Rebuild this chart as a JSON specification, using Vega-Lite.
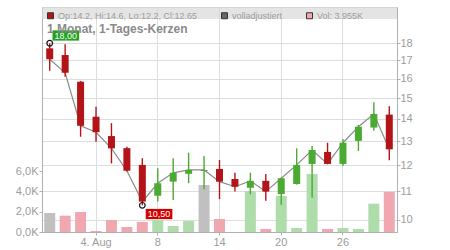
{
  "$schema": "https://vega.github.io/schema/vega-lite/v6.json",
  "width": 355,
  "height": 225,
  "autosize": {"type": "none"},
  "padding": {"left": 42, "top": 7, "right": 53, "bottom": 18},
  "background": "white",
  "title": {"text": "1 Monat, 1-Tages-Kerzen", "anchor": "start", "frame": "group", "orient": "top", "offset": -38, "dx": 5, "baseline": "alphabetic", "font": "Liberation Sans", "fontSize": 12, "fontWeight": "bold", "color": "#8a8a8a"},
  "datasets": {
    "ohlc": [
      {"date": "2025-07-30", "open": 17.70, "high": 18.00, "low": 16.43, "close": 17.07, "vol": 1870, "chg": "0"},
      {"date": "2025-07-31", "open": 17.31, "high": 17.95, "low": 16.11, "close": 16.32, "vol": 1610, "chg": "-"},
      {"date": "2025-08-01", "open": 15.84, "high": 15.88, "low": 13.19, "close": 13.68, "vol": 1970, "chg": "-"},
      {"date": "2025-08-04", "open": 14.10, "high": 14.57, "low": 12.97, "close": 13.39, "vol": 100, "chg": "-"},
      {"date": "2025-08-05", "open": 13.22, "high": 13.80, "low": 12.07, "close": 12.69, "vol": 1180, "chg": "-"},
      {"date": "2025-08-06", "open": 12.70, "high": 12.76, "low": 11.75, "close": 11.78, "vol": 490, "chg": "-"},
      {"date": "2025-08-07", "open": 12.01, "high": 12.28, "low": 10.50, "close": 10.63, "vol": 990, "chg": "-"},
      {"date": "2025-08-08", "open": 10.84, "high": 11.88, "low": 10.63, "close": 11.30, "vol": 1180, "chg": "+"},
      {"date": "2025-08-11", "open": 11.36, "high": 12.28, "low": 10.69, "close": 11.70, "vol": 590, "chg": "+"},
      {"date": "2025-08-12", "open": 11.66, "high": 12.51, "low": 11.30, "close": 11.81, "vol": 1080, "chg": "+"},
      {"date": "2025-08-13", "open": 11.77, "high": 12.37, "low": 11.08, "close": 11.81, "vol": 4630, "chg": "0"},
      {"date": "2025-08-14", "open": 11.85, "high": 12.21, "low": 10.72, "close": 11.36, "vol": 1280, "chg": "-"},
      {"date": "2025-08-15", "open": 11.46, "high": 11.70, "low": 10.99, "close": 11.17, "vol": 0, "chg": "-"},
      {"date": "2025-08-18", "open": 11.13, "high": 11.70, "low": 10.89, "close": 11.39, "vol": 4040, "chg": "+"},
      {"date": "2025-08-19", "open": 11.39, "high": 11.65, "low": 10.66, "close": 10.99, "vol": 300, "chg": "-"},
      {"date": "2025-08-20", "open": 10.90, "high": 11.52, "low": 10.52, "close": 11.49, "vol": 3550, "chg": "+"},
      {"date": "2025-08-21", "open": 11.27, "high": 12.69, "low": 11.25, "close": 12.01, "vol": 390, "chg": "+"},
      {"date": "2025-08-22", "open": 12.05, "high": 12.79, "low": 10.77, "close": 12.62, "vol": 5710, "chg": "+"},
      {"date": "2025-08-25", "open": 12.54, "high": 12.93, "low": 12.05, "close": 12.05, "vol": 300, "chg": "-"},
      {"date": "2025-08-26", "open": 12.05, "high": 13.09, "low": 11.97, "close": 12.93, "vol": 390, "chg": "+"},
      {"date": "2025-08-27", "open": 13.01, "high": 13.72, "low": 12.58, "close": 13.64, "vol": 300, "chg": "+"},
      {"date": "2025-08-28", "open": 13.60, "high": 14.79, "low": 13.46, "close": 14.23, "vol": 2790, "chg": "+"},
      {"date": "2025-08-29", "open": 14.20, "high": 14.60, "low": 12.20, "close": 12.65, "vol": 3955, "chg": "-"}
    ],
    "ext": [
      {"date": "2025-07-30", "price": 18.0, "label": "18,00", "kind": "max"},
      {"date": "2025-08-07", "price": 10.5, "label": "10,50", "kind": "min"}
    ],
    "leg": [
      {"item": "Op:14.2, Hi:14.6, Lo:12.2, Cl:12.65"},
      {"item": "volladjustiert"},
      {"item": "Vol: 3.955K"}
    ]
  },
  "config": {
    "view": {"stroke": "#c8c8c8", "strokeWidth": 1},
    "axis": {"labelFont": "Liberation Sans", "labelFontSize": 11, "labelColor": "#9c9c9c", "domainColor": "#b0b0b0", "tickColor": "#b0b0b0", "gridColor": "#dddddd", "gridWidth": 1, "tickSize": 3, "labelPadding": 1, "labelOverlap": false, "title": null},
    "axisRight": {"labelPadding": 0},
    "legend": {"labelFont": "Liberation Sans"}
  },
  "resolve": {"scale": {"y": "independent"}, "axis": {"y": "independent"}},
  "layer": [
    {
      "data": {"name": "ohlc"},
      "mark": {"type": "bar", "width": 11},
      "encoding": {
        "x": {"field": "date", "type": "ordinal", "scale": {"type": "band", "paddingInner": 0, "paddingOuter": 0}, "axis": {"values": ["2025-08-04", "2025-08-08", "2025-08-14", "2025-08-20", "2025-08-26"], "labelExpr": "datum.value == '2025-08-04' ? '4. Aug' : '' + toNumber(slice(datum.value, 8))", "grid": true, "bandPosition": 0.5, "labelAngle": 0, "title": null}},
        "y": {"field": "vol", "type": "quantitative", "scale": {"domain": [0, 22170], "nice": false}, "axis": {"orient": "left", "values": [0, 2000, 4000, 6000], "grid": false, "labelExpr": "replace(format(datum.value / 1000, '.1f'), '.', ',') + 'K'", "title": null}},
        "color": {"condition": [{"test": "datum.chg == '+'", "value": "#aedcaa"}, {"test": "datum.chg == '-'", "value": "#f0a8b0"}], "value": "#c0c0c0"}
      }
    },
    {
      "layer": [
        {
          "data": {"values": [{}]},
          "mark": {"type": "rect", "fill": "#d8d8d8", "opacity": 0.7},
          "encoding": {
            "y": {"datum": 20.31, "type": "quantitative", "scale": {"type": "log", "domain": [9.608, 20.31], "nice": false}, "axis": {"orient": "right", "values": [10, 11, 12, 13, 14, 15, 16, 17, 18], "format": "d", "grid": true, "title": null}},
            "y2": {"datum": 19.51}
          }
        },
        {
          "data": {"name": "ohlc"},
          "mark": {"type": "line", "color": "#8c8c8c", "strokeWidth": 1.2},
          "encoding": {
            "x": {"field": "date", "type": "ordinal", "scale": {"type": "band", "paddingInner": 0, "paddingOuter": 0}, "axis": {"values": ["2025-08-04", "2025-08-08", "2025-08-14", "2025-08-20", "2025-08-26"], "labelExpr": "datum.value == '2025-08-04' ? '4. Aug' : '' + toNumber(slice(datum.value, 8))", "grid": true, "bandPosition": 0.5, "labelAngle": 0, "title": null}},
            "y": {"field": "close", "type": "quantitative", "scale": {"type": "log", "domain": [9.608, 20.31], "nice": false}, "axis": {"orient": "right", "values": [10, 11, 12, 13, 14, 15, 16, 17, 18], "format": "d", "grid": true, "title": null}}
          }
        },
        {
          "data": {"name": "ohlc"},
          "mark": {"type": "rule", "strokeWidth": 1.4},
          "encoding": {
            "x": {"field": "date", "type": "ordinal", "scale": {"type": "band", "paddingInner": 0, "paddingOuter": 0}, "axis": {"values": ["2025-08-04", "2025-08-08", "2025-08-14", "2025-08-20", "2025-08-26"], "labelExpr": "datum.value == '2025-08-04' ? '4. Aug' : '' + toNumber(slice(datum.value, 8))", "grid": true, "bandPosition": 0.5, "labelAngle": 0, "title": null}},
            "y": {"field": "low", "type": "quantitative", "scale": {"type": "log", "domain": [9.608, 20.31], "nice": false}, "axis": {"orient": "right", "values": [10, 11, 12, 13, 14, 15, 16, 17, 18], "format": "d", "grid": true, "title": null}},
            "y2": {"field": "high"},
            "color": {"condition": {"test": "datum.close < datum.open", "value": "#b21418"}, "value": "#4aaa32"}
          }
        },
        {
          "data": {"name": "ohlc"},
          "mark": {"type": "bar", "width": 7},
          "encoding": {
            "x": {"field": "date", "type": "ordinal", "scale": {"type": "band", "paddingInner": 0, "paddingOuter": 0}, "axis": {"values": ["2025-08-04", "2025-08-08", "2025-08-14", "2025-08-20", "2025-08-26"], "labelExpr": "datum.value == '2025-08-04' ? '4. Aug' : '' + toNumber(slice(datum.value, 8))", "grid": true, "bandPosition": 0.5, "labelAngle": 0, "title": null}},
            "y": {"field": "open", "type": "quantitative", "scale": {"type": "log", "domain": [9.608, 20.31], "nice": false}, "axis": {"orient": "right", "values": [10, 11, 12, 13, 14, 15, 16, 17, 18], "format": "d", "grid": true, "title": null}},
            "y2": {"field": "close"},
            "color": {"condition": {"test": "datum.close < datum.open", "value": "#b21418"}, "value": "#4aaa32"}
          }
        },
        {
          "data": {"name": "ext"},
          "mark": {"type": "point", "shape": "circle", "size": 32, "filled": false, "stroke": "#111111", "strokeWidth": 1.2, "opacity": 1},
          "encoding": {
            "x": {"field": "date", "type": "ordinal", "scale": {"type": "band", "paddingInner": 0, "paddingOuter": 0}, "axis": {"values": ["2025-08-04", "2025-08-08", "2025-08-14", "2025-08-20", "2025-08-26"], "labelExpr": "datum.value == '2025-08-04' ? '4. Aug' : '' + toNumber(slice(datum.value, 8))", "grid": true, "bandPosition": 0.5, "labelAngle": 0, "title": null}},
            "y": {"field": "price", "type": "quantitative", "scale": {"type": "log", "domain": [9.608, 20.31], "nice": false}, "axis": {"orient": "right", "values": [10, 11, 12, 13, 14, 15, 16, 17, 18], "format": "d", "grid": true, "title": null}}
          }
        },
        {
          "data": {"name": "ext"},
          "transform": [{"filter": "datum.kind == 'max'"}],
          "mark": {"type": "point", "shape": "M-1.3,-0.5H1.3V0.5H-1.3Z", "size": 420, "filled": true, "color": "#22a022", "opacity": 1, "strokeWidth": 0, "xOffset": 16.1, "yOffset": -7.8},
          "encoding": {
            "x": {"field": "date", "type": "ordinal", "scale": {"type": "band", "paddingInner": 0, "paddingOuter": 0}, "axis": {"values": ["2025-08-04", "2025-08-08", "2025-08-14", "2025-08-20", "2025-08-26"], "labelExpr": "datum.value == '2025-08-04' ? '4. Aug' : '' + toNumber(slice(datum.value, 8))", "grid": true, "bandPosition": 0.5, "labelAngle": 0, "title": null}},
            "y": {"field": "price", "type": "quantitative", "scale": {"type": "log", "domain": [9.608, 20.31], "nice": false}, "axis": {"orient": "right", "values": [10, 11, 12, 13, 14, 15, 16, 17, 18], "format": "d", "grid": true, "title": null}}
          }
        },
        {
          "data": {"name": "ext"},
          "transform": [{"filter": "datum.kind == 'max'"}],
          "mark": {"type": "text", "font": "Liberation Sans", "fontSize": 9, "color": "white", "align": "center", "baseline": "middle", "dx": 16.1, "dy": -7.6},
          "encoding": {
            "x": {"field": "date", "type": "ordinal", "scale": {"type": "band", "paddingInner": 0, "paddingOuter": 0}, "axis": {"values": ["2025-08-04", "2025-08-08", "2025-08-14", "2025-08-20", "2025-08-26"], "labelExpr": "datum.value == '2025-08-04' ? '4. Aug' : '' + toNumber(slice(datum.value, 8))", "grid": true, "bandPosition": 0.5, "labelAngle": 0, "title": null}},
            "y": {"field": "price", "type": "quantitative", "scale": {"type": "log", "domain": [9.608, 20.31], "nice": false}, "axis": {"orient": "right", "values": [10, 11, 12, 13, 14, 15, 16, 17, 18], "format": "d", "grid": true, "title": null}},
            "text": {"field": "label"}
          }
        },
        {
          "data": {"name": "ext"},
          "transform": [{"filter": "datum.kind == 'min'"}],
          "mark": {"type": "point", "shape": "M-1.3,-0.5H1.3V0.5H-1.3Z", "size": 420, "filled": true, "color": "#d40000", "opacity": 1, "strokeWidth": 0, "xOffset": 16.7, "yOffset": 8.7},
          "encoding": {
            "x": {"field": "date", "type": "ordinal", "scale": {"type": "band", "paddingInner": 0, "paddingOuter": 0}, "axis": {"values": ["2025-08-04", "2025-08-08", "2025-08-14", "2025-08-20", "2025-08-26"], "labelExpr": "datum.value == '2025-08-04' ? '4. Aug' : '' + toNumber(slice(datum.value, 8))", "grid": true, "bandPosition": 0.5, "labelAngle": 0, "title": null}},
            "y": {"field": "price", "type": "quantitative", "scale": {"type": "log", "domain": [9.608, 20.31], "nice": false}, "axis": {"orient": "right", "values": [10, 11, 12, 13, 14, 15, 16, 17, 18], "format": "d", "grid": true, "title": null}}
          }
        },
        {
          "data": {"name": "ext"},
          "transform": [{"filter": "datum.kind == 'min'"}],
          "mark": {"type": "text", "font": "Liberation Sans", "fontSize": 9, "color": "white", "align": "center", "baseline": "middle", "dx": 16.7, "dy": 8.9},
          "encoding": {
            "x": {"field": "date", "type": "ordinal", "scale": {"type": "band", "paddingInner": 0, "paddingOuter": 0}, "axis": {"values": ["2025-08-04", "2025-08-08", "2025-08-14", "2025-08-20", "2025-08-26"], "labelExpr": "datum.value == '2025-08-04' ? '4. Aug' : '' + toNumber(slice(datum.value, 8))", "grid": true, "bandPosition": 0.5, "labelAngle": 0, "title": null}},
            "y": {"field": "price", "type": "quantitative", "scale": {"type": "log", "domain": [9.608, 20.31], "nice": false}, "axis": {"orient": "right", "values": [10, 11, 12, 13, 14, 15, 16, 17, 18], "format": "d", "grid": true, "title": null}},
            "text": {"field": "label"}
          }
        },
        {
          "data": {"name": "leg"},
          "mark": {"type": "square", "opacity": 0},
          "encoding": {
            "color": {"field": "item", "type": "nominal", "scale": {"domain": ["Op:14.2, Hi:14.6, Lo:12.2, Cl:12.65", "volladjustiert", "Vol: 3.955K"], "range": ["#b21418", "#666666", "#f0a8b0"]}, "legend": {"orient": "top-left", "offset": 4, "direction": "horizontal", "title": null, "symbolType": "square", "symbolSize": 36, "symbolStrokeWidth": 1, "symbolStrokeColor": "#333333", "labelFontSize": 9, "labelColor": "#9c9c9c", "labelFont": "Liberation Sans", "columnPadding": 21, "labelOffset": 3, "padding": 0, "labelLimit": 300, "encode": {"symbols": {"update": {"stroke": {"value": "#333333"}, "strokeWidth": {"value": 1}, "opacity": {"value": 1}}}}}}
          }
        }
      ]
    }
  ]
}
